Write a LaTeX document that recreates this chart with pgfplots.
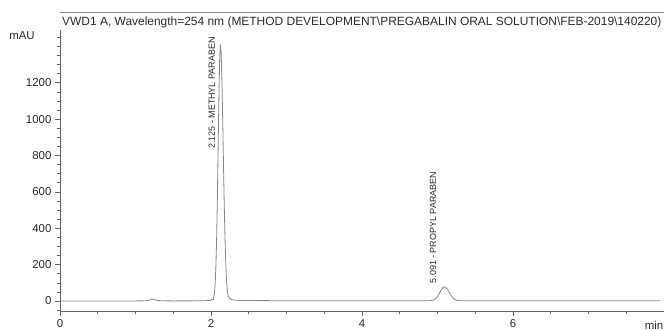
\documentclass[border=0pt]{standalone}
\usepackage{pgfplots}
\pgfplotsset{compat=1.18}
\usepackage{fontspec}
\setmainfont{Liberation Sans}
\definecolor{trace}{HTML}{858585}
\definecolor{axc}{HTML}{666666}
\definecolor{txt}{HTML}{2A2A2A}
\begin{document}
\begin{tikzpicture}
\path[use as bounding box] (-60bp,-20bp) rectangle (604bp,311bp);
\begin{axis}[
 at={(0,0)}, anchor=south west,
 scale only axis, width=604bp, height=281bp,
 xmin=0, xmax=8, ymin=-55, ymax=1490,
 axis x line=bottom, axis y line=left,
 axis line style={-, draw=axc, line width=0.8pt},
 xtick={0,2,4,6}, minor xtick={0.5,1,1.5,2.5,3,3.5,4.5,5,5.5,6.5,7,7.5},
 ytick={0,200,400,600,800,1000,1200},
 minor ytick={-50,50,100,150,250,300,350,450,500,550,650,700,750,850,900,950,1050,1100,1150,1250,1300,1350,1400,1450},
 tick align=outside,
 major tick length=5bp, minor tick length=3bp,
 every tick/.style={draw=axc, line width=0.6pt},
 tick label style={font=\fontsize{11.5}{13}\selectfont, text=txt},
 /pgf/number format/assume math mode=true,
 /pgf/number format/1000 sep={},
 clip=false,
]
\addplot[trace, line width=0.8pt] coordinates {
(0,0) (0.5,0.5) (1.0,0.5) (1.15,1) (1.18,4) (1.2,9) (1.22,11) (1.24,9) (1.27,5) (1.3,3) (1.35,1) (1.5,0.5) (1.9,1)
(1.98,3) (2.0,6) (2.01,7) (2.02,5) (2.03,8)
(2.035,16) (2.045,40) (2.055,93) (2.065,191) (2.075,352) (2.085,580) (2.095,855) (2.105,1129) (2.115,1334) (2.125,1410)
(2.135,1357) (2.145,1208) (2.155,997) (2.165,761) (2.175,537) (2.185,352) (2.195,213) (2.205,119) (2.215,62) (2.225,30)
(2.245,15) (2.275,8) (2.325,4) (2.45,2.5) (3.0,1.5) (4.0,1) (4.7,1) (4.85,1.5)
(4.911,2) (4.931,3) (4.951,5.5) (4.971,10.5) (4.991,19.4) (5.011,32) (5.031,47) (5.051,62.5) (5.071,74) (5.091,78)
(5.111,74.4) (5.131,64.5) (5.151,51) (5.171,36.6) (5.191,23.9) (5.211,14.2) (5.231,7.7) (5.251,3.8) (5.281,2) (5.341,1.2)
(6.0,1) (7.0,1) (7.95,1)
};
\node[rotate=90, anchor=west, font=\fontsize{9}{10}\selectfont, text=txt, inner sep=1pt] at (axis cs:2.01,830) {2.125 - METHYL PARABEN};
\node[rotate=90, anchor=west, font=\fontsize{9}{10}\selectfont, text=txt, inner sep=1pt] at (axis cs:4.94,90) {5.091 - PROPYL PARABEN};
\end{axis}
\draw[axc!80, line width=0.8pt] (0,299bp) -- (604bp,299bp);
\node[anchor=base west, font=\fontsize{12}{14}\selectfont, text=txt, inner sep=0pt] at (2bp,285bp) {VWD1 A, Wavelength=254 nm (METHOD DEVELOPMENT\textbackslash PREGABALIN ORAL SOLUTION\textbackslash FEB-2019\textbackslash 140220)};
\node[anchor=base, font=\fontsize{11.5}{13}\selectfont, text=txt, inner sep=0pt] at (-38bp,271bp) {mAU};
\node[anchor=base, font=\fontsize{11.5}{13}\selectfont, text=txt, inner sep=0pt] at (594bp,-18bp) {min};
\end{tikzpicture}
\end{document}
